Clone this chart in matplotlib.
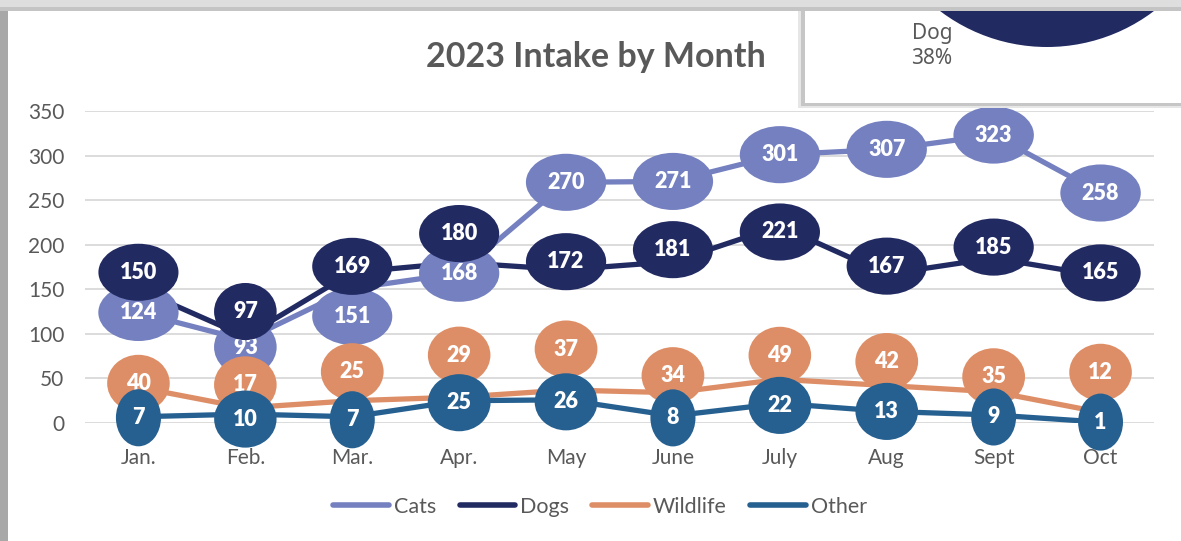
import numpy as np
import matplotlib.pyplot as plt
from matplotlib.patches import Rectangle, Circle
from matplotlib.lines import Line2D

plt.rcParams['font.family'] = ['Lato', 'DejaVu Sans']

W, H = 1181, 541

months = ['Jan.', 'Feb.', 'Mar.', 'Apr.', 'May', 'June', 'July', 'Aug', 'Sept', 'Oct']
cats = [124, 93, 151, 168, 270, 271, 301, 307, 323, 258]
dogs = [150, 97, 169, 180, 172, 181, 221, 167, 185, 165]
wildlife = [40, 17, 25, 29, 37, 34, 49, 42, 35, 12]
other = [7, 10, 7, 25, 26, 8, 22, 13, 9, 1]

# label shifts (pixels up) so the ovals don't sit on top of each other
cats_dy = [0, -7, -28, 0, 0, 0, 0, 0, 0, 0]
dogs_dy = [17, 25, 6, 29, 8, 12, -6, 8, 11, 3]
wild_dy = [4, 23, 29, 42, 41, 17, 24, 24, 15, 40]
other_dy = [-1, -5, -3, -2, -2, -2, -2, 0, -2, 0]

series = [
    ('Cats', cats, cats_dy, '#7480bf'),
    ('Dogs', dogs, dogs_dy, '#222a62'),
    ('Wildlife', wildlife, wild_dy, '#de8e66'),
    ('Other', other, other_dy, '#256090'),
]

grey = '#595959'


def fx(x):
    return x / W


def fy(y):
    return 1 - y / H


fig = plt.figure(figsize=(W / 100, H / 100), dpi=100)

# shadows round the chart box
fig.patches.append(Rectangle((0, 0), fx(8), 1, transform=fig.transFigure,
                             fc='#a8a8a8', ec='none', zorder=0))
fig.patches.append(Rectangle((0, fy(11)), 1, 11 / H, transform=fig.transFigure,
                             fc='#dedede', ec='none', zorder=0))
fig.patches.append(Rectangle((0, fy(11)), 1, 4 / H, transform=fig.transFigure,
                             fc='#c4c4c4', ec='none', zorder=0))

ax = fig.add_axes([fx(85), fy(423), (1154 - 85) / W, (423 - 111) / H])
x = np.arange(len(months))

for i, (name, vals, dys, col) in enumerate(series):
    ax.plot(x, vals, color=col, lw=3.8, solid_joinstyle='round', zorder=2)

for i, (name, vals, dys, col) in enumerate(series):
    for xi, v, dy in zip(x, vals, dys):
        ax.annotate(str(v), (xi, v), xytext=(0, dy), textcoords='offset pixels',
                    ha='center', va='center', fontsize=15.5, fontweight='heavy',
                    color='white', zorder=5 + i,
                    bbox=dict(boxstyle='ellipse,pad=0.45', fc=col, ec='none'))

ax.set_xlim(-0.5, len(months) - 0.5)
ax.set_ylim(0, 350)
ax.set_yticks(range(0, 351, 50))
ax.set_xticks(x)
ax.set_xticklabels(months)
ax.grid(axis='y', color='#d9d9d9', lw=1.3)
ax.set_axisbelow(True)
for s in ax.spines.values():
    s.set_visible(False)
ax.tick_params(axis='both', length=0, labelsize=15, labelcolor=grey)
ax.tick_params(axis='y', pad=15)
ax.tick_params(axis='x', pad=18)

fig.text(fx(596), fy(57), '2023 Intake by Month', ha='center', va='center',
         fontsize=24.5, fontweight='bold', color=grey)

handles = [Line2D([], [], color=c, lw=4, solid_capstyle='round') for _, _, _, c in series]
fig.legend(handles, [s[0] for s in series], loc='center', ncol=4,
           bbox_to_anchor=(fx(600), fy(507)), frameon=False, fontsize=15.5,
           labelcolor=grey, handlelength=2.6, handletextpad=0.2,
           columnspacing=1.1)

# the pie chart box that overlaps the top right corner
box = fig.add_axes([fx(797), fy(109), (W - 797) / W, 109 / H])
box.set_xlim(797, W)
box.set_ylim(109, 0)
box.axis('off')
box.add_patch(Rectangle((798, 0), W - 798, 108, fc='#e6e6e6', ec='none'))
box.add_patch(Rectangle((801, 0), W - 801, 106, fc='#c6c6c6', ec='none'))
panel = Rectangle((805, 0), W - 805, 103, fc='white', ec='none')
box.add_patch(panel)
pie = Circle((1047, -130), 177, fc='#222a62', ec='none')
box.add_patch(pie)
pie.set_clip_path(panel)
box.text(932, 33, 'Dog', ha='center', va='center', fontsize=15,
         color=grey, family=['Noto Sans', 'DejaVu Sans'])
box.text(932, 58, '38%', ha='center', va='center', fontsize=15,
         color=grey, family=['Noto Sans', 'DejaVu Sans'])

fig.savefig('out.png', dpi=100)
